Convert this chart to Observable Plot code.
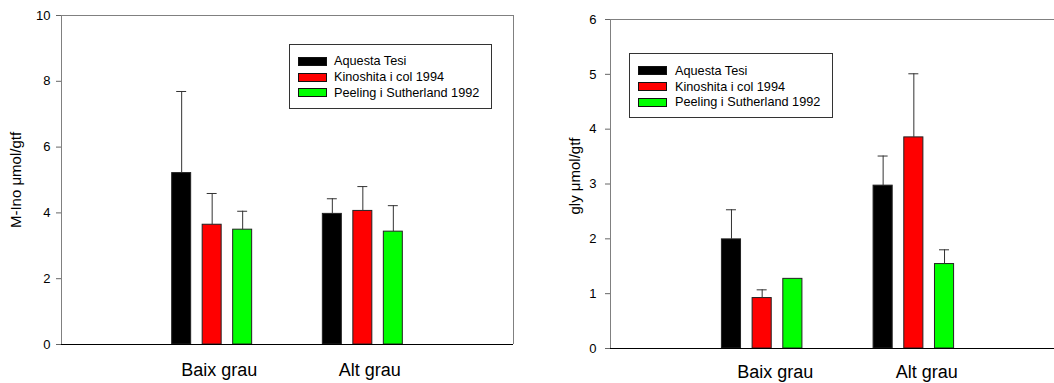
<!DOCTYPE html>
<html>
<head>
<meta charset="utf-8">
<script src="https://cdn.jsdelivr.net/npm/d3@7"></script>
<script src="https://cdn.jsdelivr.net/npm/@observablehq/plot@0.6"></script>
<style>
  html, body { margin: 0; padding: 0; background: #fff; }
  body { width: 1054px; height: 383px; overflow: hidden; position: relative;
         font-family: "Liberation Sans", Arial, sans-serif; }
  .chart { position: absolute; top: 0; }
  .legend { position: absolute; box-sizing: border-box; border: 1px solid #333; background: #fff; }
  .legend .sw { position: absolute; box-sizing: border-box; width: 29px; height: 9px; border: 1px solid #111; }
  .legend .lb { position: absolute; height: 16px; line-height: 16px; font-size: 12.7px; color: #000; white-space: nowrap; }
</style>
</head>
<body>
<script>
// ---- data ----
const groups = ["Baix grau", "Alt grau"];
const series = ["Aquesta Tesi", "Kinoshita i col 1994", "Peeling i Sutherland 1992"];
const colors = ["#000000", "#ff0000", "#00ff00"];

// M-Ino (µmol/gtf): means and upper error per group [Baix grau, Alt grau]
const minoAquesta = [5.21, 3.97];
const minoAquestaErr = [2.48, 0.46];
const minoKinoshita = [3.64, 4.06];
const minoKinoshitaErr = [0.95, 0.74];
const minoPeeling = [3.49, 3.43];
const minoPeelingErr = [0.56, 0.79];
const minoTicks = [0, 2, 4, 6, 8, 10];

// gly (µmol/gtf)
const glyAquesta = [1.99, 2.97];
const glyAquestaErr = [0.54, 0.54];
const glyKinoshita = [0.92, 3.85];
const glyKinoshitaErr = [0.15, 1.16];
const glyPeeling = [1.27, 1.54];
const glyPeelingErr = [0, 0.26];
const glyTicks = [0, 1, 2, 3, 4, 5, 6];

function buildRows(means, errs) {
  const rows = [];
  groups.forEach((g, gi) => {
    series.forEach((s, si) => {
      rows.push({group: g, gi: gi + 1, series: s, si, value: means[si][gi], err: errs[si][gi]});
    });
  });
  return rows;
}

const minoRows = buildRows([minoAquesta, minoKinoshita, minoPeeling], [minoAquestaErr, minoKinoshitaErr, minoPeelingErr]);
const glyRows = buildRows([glyAquesta, glyKinoshita, glyPeeling], [glyAquestaErr, glyKinoshitaErr, glyPeelingErr]);

const OFF = 0.2024, HALF = 0.063, CAP = 0.033;
const center = d => d.gi + (d.si - 1) * OFF;

function chart(o) {
  const withErr = o.rows.filter(d => d.err > 0);
  const marks = [
    Plot.ruleY([o.yMax], {stroke: "#808080"}),
    Plot.rect(o.rows, {
      x1: d => center(d) - HALF, x2: d => center(d) + HALF,
      y1: d => 0, y2: d => d.value,
      fill: d => colors[d.si], stroke: "#222", strokeWidth: 1
    }),
    Plot.ruleX(withErr, {x: center, y1: d => d.value, y2: d => d.value + d.err, stroke: "#333"}),
    Plot.ruleY(withErr, {y: d => d.value + d.err, x1: d => center(d) - CAP, x2: d => center(d) + CAP, stroke: "#333"}),
    Plot.ruleX([0], {stroke: "#808080"}),
    Plot.ruleY([0], {stroke: "#000"}),
    Plot.axisY({ticks: o.ticks, tickFormat: d => String(d), tickSize: 5, tickPadding: o.tickPad, stroke: "#666", label: null, fontSize: 13}),
    Plot.axisX({ticks: [1, 2], tickFormat: d => groups[d - 1], tickSize: 0, tickPadding: o.xPad, dx: o.xDx, fontSize: 18, label: null}),
    Plot.text([o.label], {frameAnchor: "left", rotate: -90, textAnchor: "middle", dx: -o.labelOff, dy: o.labelDy, fontSize: 15})
  ];
  if (o.rightBorder) marks.splice(1, 0, Plot.ruleX([3], {stroke: "#808080"}));
  const svg = Plot.plot({
    width: o.width, height: 383,
    marginLeft: o.ml, marginRight: o.mr, marginTop: o.mt, marginBottom: o.mb,
    x: {domain: [0, 3]},
    y: {domain: [0, o.yMax]},
    style: {fontFamily: '"Liberation Sans", Arial, sans-serif', fontSize: "13px", color: "#000", background: "transparent", overflow: "visible"},
    marks
  });
  svg.classList.add("chart");
  svg.style.left = o.left + "px";
  return svg;
}

function legend(o) {
  const box = document.createElement("div");
  box.className = "legend";
  Object.assign(box.style, {left: o.left + "px", top: o.top + "px", width: o.width + "px", height: o.height + "px"});
  series.forEach((s, i) => {
    const c = o.centers[i];
    const sw = document.createElement("div");
    sw.className = "sw";
    Object.assign(sw.style, {left: o.swLeft + "px", top: (c - 4.5) + "px", background: colors[i]});
    const lb = document.createElement("div");
    lb.className = "lb";
    lb.textContent = s;
    Object.assign(lb.style, {left: o.txLeft + "px", top: (c - 8) + "px"});
    box.append(sw, lb);
  });
  return box;
}

document.body.append(
  chart({rows: minoRows, yMax: 10, ticks: minoTicks, label: "M-Ino μmol/gtf",
         left: 0, width: 530, ml: 61, mr: 17, mt: 15, mb: 39,
         tickPad: 6, xPad: 19, xDx: 7, labelOff: 45, labelDy: 0, rightBorder: true}),
  chart({rows: glyRows, yMax: 6, ticks: glyTicks, label: "gly μmol/gtf",
         left: 530, width: 535, ml: 80, mr: 0, mt: 19, mb: 35,
         tickPad: 9, xPad: 17, xDx: 13, labelOff: 35, labelDy: -8, rightBorder: false}),
  legend({left: 289, top: 44, width: 203, height: 65, centers: [16, 32, 47.5], swLeft: 8, txLeft: 44}),
  legend({left: 629, top: 53, width: 204, height: 65, centers: [16.5, 32.5, 48], swLeft: 8, txLeft: 45})
);
</script>
</body>
</html>
